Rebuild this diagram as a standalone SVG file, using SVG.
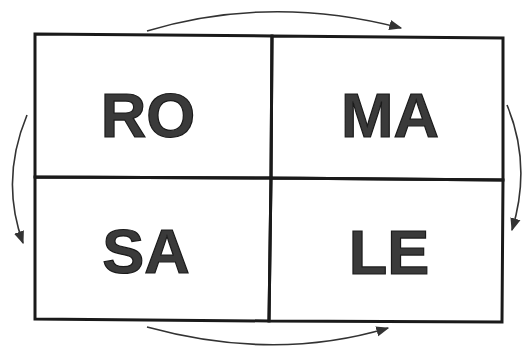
<svg xmlns="http://www.w3.org/2000/svg" width="524" height="346" viewBox="0 0 524 346">
<defs>
<style>
.cell{fill:none;stroke:#1a1a1a;stroke-width:3}
.lbl{font-family:"Liberation Sans",Arial,sans-serif;font-weight:bold;font-size:63px;fill:#3a3a3a;stroke:#1a1a1a;stroke-width:1.2;text-anchor:middle}
.arc{fill:none;stroke:#333;stroke-width:1.6}
</style>
<marker id="ah" viewBox="0 0 10 10" refX="9" refY="5" markerWidth="13" markerHeight="13" markerUnits="userSpaceOnUse" orient="auto">
<path d="M0,1 L10,5 L0,9 Z" fill="#333"/>
</marker>
</defs>
<rect width="524" height="346" fill="#fff"/>
<g id="RO"><path class="cell" d="M35,34 L272,36 L271,178 L35,177 Z"/><text class="lbl" x="148" y="137">RO</text></g>
<g id="MA"><path class="cell" d="M272,36 L503,38 L503,180 L271,178 Z"/><text class="lbl" x="390" y="137">MA</text></g>
<g id="SA"><path class="cell" d="M35,177 L271,178 L269,321 L35,319 Z"/><text class="lbl" x="146" y="273">SA</text></g>
<g id="LE"><path class="cell" d="M271,178 L503,180 L502,322 L269,321 Z"/><text class="lbl" x="389" y="274">LE</text></g>
<g id="connectors">
<path class="arc" d="M147,31 Q270,-6 401,28" marker-end="url(#ah)"/>
<path class="arc" d="M507,105 Q532,165 512,230" marker-end="url(#ah)"/>
<path class="arc" d="M147,327 Q275,362 388,328" marker-end="url(#ah)"/>
<path class="arc" d="M27,115 Q0,180 23,243" marker-end="url(#ah)"/>
</g>
</svg>
